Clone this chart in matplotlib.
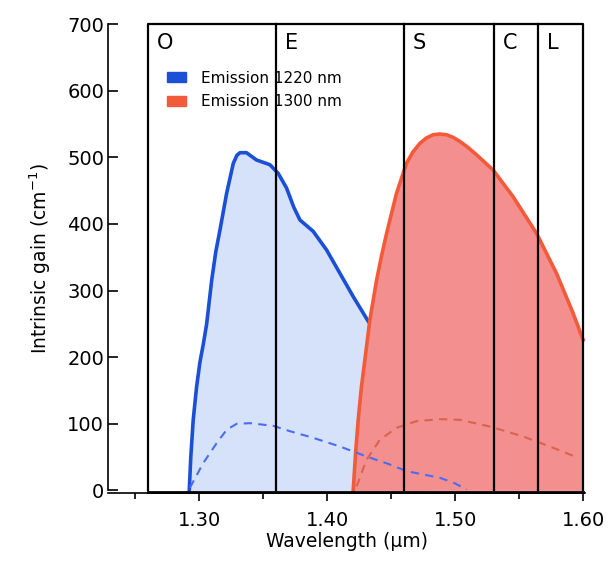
import matplotlib
matplotlib.use('Agg')
import matplotlib.pyplot as plt
from matplotlib.patches import Patch

plt.rcParams['font.family'] = ['DejaVu Sans']

# emission 1220 nm : solid = gain, dashed = lower curve
wl_1220 = [1.2923, 1.2935, 1.2954, 1.2980, 1.3006, 1.3035, 1.3059, 1.3098, 1.3130, 1.3163,
           1.3215, 1.3267, 1.3295, 1.3319, 1.337, 1.3449, 1.3553, 1.3618, 1.3683, 1.3740,
           1.3788, 1.3891, 1.3996, 1.41, 1.4204, 1.4321, 1.445, 1.46, 1.48]
gain_1220 = [0, 50, 106, 155, 192, 222, 250, 315, 358, 391,
             446, 491, 503, 507, 507, 496, 489, 476, 454, 425,
             406, 389, 361, 326, 291, 254, 220, 170, 100]
wl_1220_d = [1.2928, 1.3032, 1.3137, 1.3215, 1.3293, 1.3397, 1.3579, 1.3709, 1.3891, 1.41,
             1.4308, 1.449, 1.462, 1.488, 1.4985, 1.509]
gain_1220_d = [4, 41, 71, 91, 100, 101, 97, 89, 79, 66,
               51, 39, 29, 19, 12, 1.5]

# emission 1300 nm
wl_1300 = [1.4204, 1.4222, 1.4243, 1.4268, 1.4295, 1.4334, 1.4387, 1.4425, 1.4465, 1.4542,
           1.462, 1.467, 1.4725, 1.4775, 1.4829, 1.488, 1.4933, 1.4985, 1.5037, 1.5100,
           1.5167, 1.5297, 1.5453, 1.5636, 1.5792, 1.5922, 1.60]
gain_1300 = [0, 55, 106, 155, 196, 256, 316, 352, 386, 446,
             491, 508, 521, 529, 534, 535, 534, 530, 524, 515,
             504, 481, 441, 386, 326, 266, 226]
wl_1300_d = [1.423, 1.4308, 1.4412, 1.4542, 1.4698, 1.488, 1.5037, 1.5272, 1.5532, 1.5766, 1.5961]
gain_1300_d = [6, 46, 76, 94, 104, 107, 106, 96, 81, 64, 49]

# telecom bands
band_edges = [1.26, 1.36, 1.46, 1.53, 1.565, 1.60]
band_names = ['O', 'E', 'S', 'C', 'L']

blue = '#1a4fd6'
red = '#f25a3a'

fig = plt.figure(figsize=(6.08, 5.61), dpi=100)
ax = fig.add_axes([0.178, 0.121, 0.784, 0.836])

ax.fill_between(wl_1220, 0, gain_1220, color='#d6e1fa', lw=0, zorder=1)
ax.plot(wl_1220, gain_1220, color=blue, lw=2.6, zorder=2, solid_joinstyle='round')
ax.fill_between(wl_1300, 0, gain_1300, color='#f48f8f', lw=0, zorder=3)
ax.plot(wl_1300, gain_1300, color=red, lw=2.6, zorder=4, solid_joinstyle='round')
ax.plot(wl_1220_d, gain_1220_d, color='#4a6cf0', lw=1.5, ls=(0, (4, 3)), zorder=5)
ax.plot(wl_1300_d, gain_1300_d, color='#d8644e', lw=1.5, ls=(0, (4, 3)), zorder=5)

# band box and separators
ax.plot([band_edges[0], band_edges[0], band_edges[-1], band_edges[-1]], [0, 700, 700, 0],
        color='black', lw=1.6, zorder=6, clip_on=False)
ax.plot([band_edges[0], band_edges[-1]], [-2, -2], color='black', lw=2, zorder=6, clip_on=False)
for e in band_edges[1:-1]:
    ax.plot([e, e], [0, 700], color='black', lw=1.6, zorder=6, clip_on=False)
for e, name in zip(band_edges[:-1], band_names):
    ax.text(e + 0.007, 672, name, fontsize=15, ha='left', va='center', zorder=7)

ax.set_xlim(1.229, 1.6014)
ax.set_ylim(-4, 700)
ax.set_xticks([1.30, 1.40, 1.50, 1.60])
ax.set_xticklabels(['1.30', '1.40', '1.50', '1.60'])
ax.set_xticks([1.25, 1.35, 1.45, 1.55], minor=True)
ax.set_yticks(range(0, 701, 100))
ax.tick_params(axis='y', direction='in', length=7, width=1.2, labelsize=14, pad=3)
ax.tick_params(axis='x', direction='out', length=6, width=1.2, labelsize=14, pad=7)
ax.tick_params(axis='x', which='minor', direction='out', length=4, width=1.2)
for s in ['top', 'right']:
    ax.spines[s].set_visible(False)
ax.spines['left'].set_linewidth(1.2)
ax.spines['bottom'].set_linewidth(1.2)
ax.spines['left'].set_bounds(0, 700)

ax.set_ylabel(r'Intrinsic gain (cm$^{-1}$)', fontsize=13.5, labelpad=10)
ax.set_xlabel('Wavelength (\u03bcm)', fontsize=13.5, labelpad=1)

handles = [Patch(facecolor=blue, edgecolor=blue), Patch(facecolor=red, edgecolor=red)]
ax.legend(handles, ['Emission 1220 nm', 'Emission 1300 nm'], loc='upper left',
          bbox_to_anchor=(0.095, 0.93), frameon=False, fontsize=11,
          handlelength=1.2, handleheight=0.6, labelspacing=0.55, handletextpad=1.0)

plt.savefig('out.png', dpi=100)
